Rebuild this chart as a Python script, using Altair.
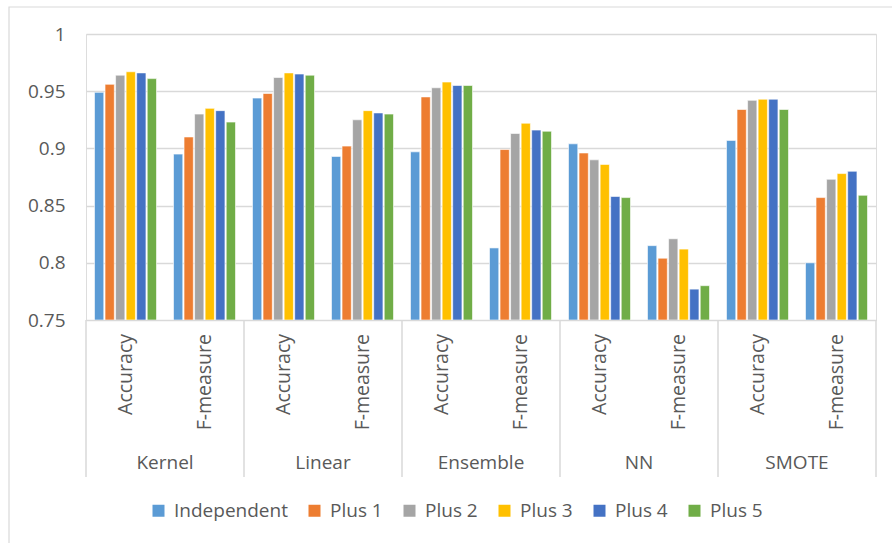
import altair as alt
import pandas as pd

groups = ["Kernel", "Linear", "Ensemble", "NN", "SMOTE"]
metrics = ["Accuracy", "F-measure"]
series = ["Independent", "Plus 1", "Plus 2", "Plus 3", "Plus 4", "Plus 5"]
colors = ["#5B9BD5", "#ED7D31", "#A5A5A5", "#FFC000", "#4472C4", "#70AD47"]

# order: Kernel Acc, Kernel F, Linear Acc, Linear F, Ensemble Acc, Ensemble F, NN Acc, NN F, SMOTE Acc, SMOTE F
independent = [0.949, 0.895, 0.944, 0.893, 0.897, 0.813, 0.904, 0.815, 0.907, 0.800]
plus1 = [0.956, 0.910, 0.948, 0.902, 0.945, 0.899, 0.896, 0.804, 0.934, 0.857]
plus2 = [0.964, 0.930, 0.962, 0.925, 0.953, 0.913, 0.890, 0.821, 0.942, 0.873]
plus3 = [0.967, 0.935, 0.966, 0.933, 0.958, 0.922, 0.886, 0.812, 0.943, 0.878]
plus4 = [0.966, 0.933, 0.965, 0.931, 0.955, 0.916, 0.858, 0.777, 0.943, 0.880]
plus5 = [0.961, 0.923, 0.964, 0.930, 0.955, 0.915, 0.857, 0.780, 0.934, 0.859]
values = [independent, plus1, plus2, plus3, plus4, plus5]

cats = [f"{g}|{m}" for g in groups for m in metrics]
rows = []
for s, vals in zip(series, values):
    for c, v in zip(cats, vals):
        rows.append({"cat": c, "series": s, "value": v})
df = pd.DataFrame(rows)
cat_df = pd.DataFrame({"cat": cats, "metric": [c.split("|")[1] for c in cats]})
grp_df = pd.DataFrame({"group": groups, "last": [g == groups[-1] for g in groups]})

FONT = "Open Sans"
TXT = "#595959"
GRID = "#D9D9D9"

cat_scale = alt.Scale(domain=cats, paddingInner=0.215, paddingOuter=0.1075)
grp_scale = alt.Scale(domain=groups, paddingInner=0, paddingOuter=0)

bars = alt.Chart(df).mark_bar(stroke="white", strokeWidth=0.6, clip=True).encode(
    x=alt.X("cat:N", scale=cat_scale, axis=None, sort=cats),
    xOffset=alt.XOffset("series:N", scale=alt.Scale(domain=series, paddingInner=0.12), sort=series),
    y=alt.Y("value:Q", scale=alt.Scale(domain=[0.75, 1.0], zero=False, nice=False),
            axis=alt.Axis(values=[0.75, 0.8, 0.85, 0.9, 0.95, 1.0], labelExpr="format(datum.value, '.2~f')",
                          grid=True, gridColor=GRID, gridWidth=1.3, domain=False, ticks=False,
                          labelPadding=21, labelFont=FONT, labelFontSize=19, labelColor=TXT, title=None)),
    y2=alt.Y2(datum=0.75),
    color=alt.Color("series:N", scale=alt.Scale(domain=series, range=colors), sort=series,
                    legend=alt.Legend(title=None, orient="none", legendX=63, legendY=467, direction="horizontal",
                                      symbolType="square", symbolSize=144, symbolStrokeWidth=0,
                                      labelFont=FONT, labelFontSize=19, labelColor=TXT, labelOffset=6,
                                      columnPadding=17)),
)

metric_text = alt.Chart(cat_df).mark_text(angle=270, align="right", baseline="middle",
                                          font=FONT, fontSize=19.5, color=TXT).encode(
    x=alt.X("cat:N", scale=cat_scale, axis=None, sort=cats),
    y=alt.value(300),
    text="metric:N",
)

group_text = alt.Chart(grp_df).mark_text(baseline="middle", font=FONT, fontSize=19, color=TXT).encode(
    x=alt.X("group:N", scale=grp_scale, axis=None, sort=groups),
    y=alt.value(429),
    text="group:N",
)

sep_left = alt.Chart(grp_df).mark_rule(color=GRID, strokeWidth=1.5).encode(
    x=alt.X("group:N", scale=grp_scale, axis=None, sort=groups, bandPosition=0),
    y=alt.value(286),
    y2=alt.value(443),
)
sep_right = alt.Chart(grp_df).transform_filter("datum.last").mark_rule(color=GRID, strokeWidth=1.5).encode(
    x=alt.X("group:N", scale=alt.Scale(domain=groups, paddingInner=0, paddingOuter=0), axis=None, sort=groups, bandPosition=1),
    y=alt.value(286),
    y2=alt.value(443),
)

border = alt.Chart(grp_df.head(1)).mark_rect(fill=None, stroke=GRID, strokeWidth=1.2).encode(
    x=alt.value(-77), x2=alt.value(840), y=alt.value(-27), y2=alt.value(560)
)

chart = alt.layer(border, bars, metric_text, group_text, sep_left, sep_right).resolve_scale(
    x="independent"
).properties(
    width=790, height=286,
    autosize=alt.AutoSizeParams(type="none"),
    padding={"left": 86, "top": 34, "right": 16, "bottom": 223},
).configure_view(stroke=None).configure(background="white")

chart.save("out.html", embed_options={"renderer": "svg", "actions": False})
